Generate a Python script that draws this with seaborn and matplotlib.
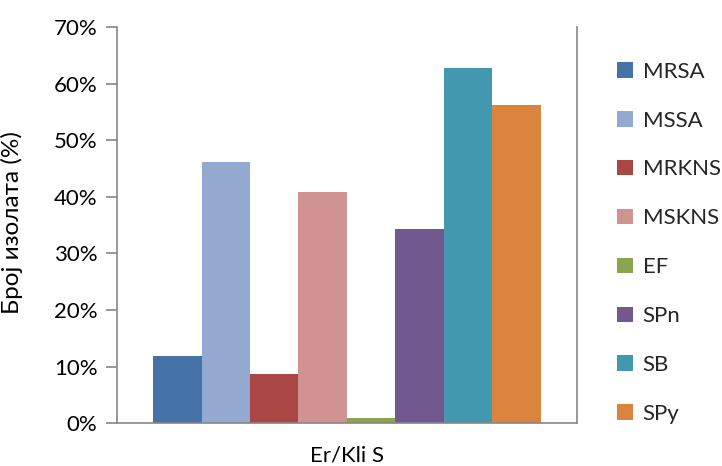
import matplotlib
matplotlib.use('Agg')
import matplotlib.pyplot as plt
import seaborn as sns
from matplotlib.ticker import PercentFormatter, MultipleLocator

# ── Data ──────────────────────────────────────────────────────────────────────
CATEGORY = 'Er/Kli S'
ORGANISMS = ['MRSA', 'MSSA', 'MRKNS', 'MSKNS', 'EF', 'SPn', 'SB', 'SPy']
PERCENTS = [11.9, 46.2, 8.6, 40.9, 0.9, 34.3, 62.7, 56.2]
COLORS = ['#4572A7', '#93A9CF', '#AA4643', '#D19392',
          '#89A54E', '#71588F', '#4198AF', '#DB843D']

# ── Styling ───────────────────────────────────────────────────────────────────
sns.set_theme(style='white')
plt.rcParams['font.family'] = ['Lato', 'DejaVu Sans']
AXIS_GREY = '#868686'
FS = 16

fig = plt.figure(figsize=(7.22, 4.66), dpi=100)
ax = fig.add_axes([0.162, 0.092, 0.637, 0.850])

sns.barplot(x=[CATEGORY] * len(ORGANISMS), y=PERCENTS, hue=ORGANISMS,
            hue_order=ORGANISMS, palette=COLORS, width=0.843, gap=0,
            saturation=1, ax=ax, legend=True)
for p in ax.patches:
    p.set_edgecolor('none')

ax.set_xlim(-0.5, 0.5)
ax.set_ylim(0, 70)
ax.yaxis.set_major_locator(MultipleLocator(10))
ax.yaxis.set_major_formatter(PercentFormatter(100, decimals=0))

ax.spines['top'].set_visible(False)
for side in ('left', 'right', 'bottom'):
    ax.spines[side].set_color(AXIS_GREY)
    ax.spines[side].set_linewidth(1.2)

ax.tick_params(axis='y', which='major', direction='out', length=8,
               width=1.2, color=AXIS_GREY, left=True, labelsize=FS,
               labelcolor='black', pad=6)
ax.tick_params(axis='x', bottom=False, labelsize=FS, labelcolor='black', pad=10)
ax.set_ylabel('Број изолата (%)', fontsize=17.5, color='black')
ax.yaxis.set_label_coords(-0.204, 0.506)
ax.set_xlabel('')

handles, labels = ax.get_legend_handles_labels()
ax.legend(handles, labels, loc='upper left', bbox_to_anchor=(1.068, 0.935),
          frameon=False, fontsize=FS, handlelength=0.7, handleheight=0.7,
          handletextpad=0.45, labelspacing=1.3, borderaxespad=0)

fig.savefig('out.png', dpi=100, facecolor='white')
